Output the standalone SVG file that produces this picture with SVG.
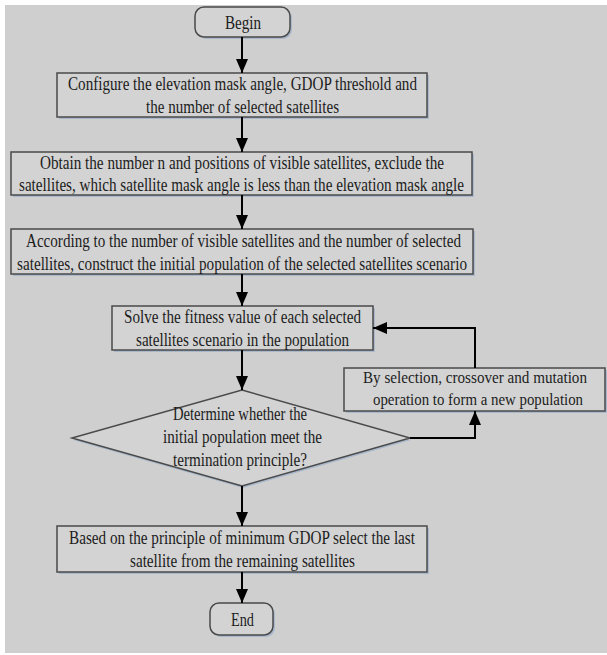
<svg xmlns="http://www.w3.org/2000/svg" width="607" height="655" viewBox="0 0 607 655">
<style>
.box{fill:#d3d3d3;stroke:#4a4a4a;stroke-width:1.5}
.sh{fill:#a9b8cb}
.t{font-family:"Liberation Serif","Times New Roman",serif;font-size:19px;fill:#1c1c1c}
.s{font-size:16px}
.c{stroke:#000;stroke-width:2;fill:none}
</style>
<defs>
<marker id="ah" markerUnits="userSpaceOnUse" markerWidth="14" markerHeight="12" refX="14" refY="6" orient="auto">
<path d="M0,0 L14,6 L0,12 z" fill="#000"/>
</marker>
</defs>
<rect x="0" y="0" width="607" height="655" fill="#ffffff"/>
<rect x="5" y="5" width="602" height="648" fill="#cfcfcf"/>

<g id="begin">
<rect class="sh" x="197" y="9" width="95" height="30" rx="9"/>
<rect class="box" x="195" y="7" width="95" height="30" rx="9"/>
<text class="t" x="225" y="29" textLength="36" lengthAdjust="spacingAndGlyphs">Begin</text>
</g>

<g id="configure">
<rect class="sh" x="59" y="75" width="370" height="44"/>
<rect class="box" x="57" y="73" width="370" height="44"/>
<text class="t" x="68" y="90" textLength="349" lengthAdjust="spacingAndGlyphs">Configure the elevation mask angle, GDOP threshold and</text>
<text class="t" x="146" y="113" textLength="193" lengthAdjust="spacingAndGlyphs">the number of selected satellites</text>
</g>

<g id="obtain">
<rect class="sh" x="13" y="154" width="461" height="43"/>
<rect class="box" x="11" y="152" width="461" height="43"/>
<text class="t" x="40" y="169" textLength="404" lengthAdjust="spacingAndGlyphs">Obtain the number n and positions of visible satellites, exclude the</text>
<text class="t" x="19" y="191" textLength="445" lengthAdjust="spacingAndGlyphs">satellites, which satellite mask angle is less than the elevation mask angle</text>
</g>

<g id="construct">
<rect class="sh" x="13" y="231" width="462" height="45"/>
<rect class="box" x="11" y="229" width="462" height="45"/>
<text class="t" x="26" y="247" textLength="435" lengthAdjust="spacingAndGlyphs">According to the number of visible satellites and the number of selected</text>
<text class="t" x="17" y="270" textLength="450" lengthAdjust="spacingAndGlyphs">satellites, construct the initial population of the selected satellites scenario</text>
</g>

<g id="fitness">
<rect class="sh" x="114" y="308" width="261" height="44"/>
<rect class="box" x="112" y="306" width="261" height="44"/>
<text class="t" x="124" y="323" textLength="237" lengthAdjust="spacingAndGlyphs">Solve the fitness value of each selected</text>
<text class="t" x="136" y="346" textLength="213" lengthAdjust="spacingAndGlyphs">satellites scenario in the population</text>
</g>

<g id="evolve">
<rect class="sh" x="346" y="370" width="261" height="43"/>
<rect class="box" x="344" y="368" width="261" height="43"/>
<text class="t s" x="363" y="383" textLength="224" lengthAdjust="spacingAndGlyphs">By selection, crossover and mutation</text>
<text class="t s" x="373" y="405" textLength="210" lengthAdjust="spacingAndGlyphs">operation to form a new population</text>
</g>

<g id="decision">
<polygon class="sh" points="243,392 411,440 243,488 73,440"/>
<polygon class="box" points="242,390 410,438 242,486 72,438"/>
<text class="t" x="173" y="420" textLength="134" lengthAdjust="spacingAndGlyphs">Determine whether the</text>
<text class="t" x="163" y="443" textLength="159" lengthAdjust="spacingAndGlyphs">initial population meet the</text>
<text class="t" x="173" y="466" textLength="134" lengthAdjust="spacingAndGlyphs">termination principle?</text>
</g>

<g id="select">
<rect class="sh" x="59" y="528" width="370" height="46"/>
<rect class="box" x="57" y="526" width="370" height="46"/>
<text class="t" x="69" y="544" textLength="346" lengthAdjust="spacingAndGlyphs">Based on the principle of minimum GDOP select the last</text>
<text class="t" x="130" y="567" textLength="225" lengthAdjust="spacingAndGlyphs">satellite from the remaining satellites</text>
</g>

<g id="end">
<rect class="sh" x="212" y="605" width="63" height="32" rx="9"/>
<rect class="box" x="210" y="603" width="63" height="32" rx="9"/>
<text class="t" x="231" y="626" textLength="23" lengthAdjust="spacingAndGlyphs">End</text>
</g>

<g id="connectors">
<line class="c" x1="242" y1="37" x2="242" y2="73" marker-end="url(#ah)"/>
<line class="c" x1="242" y1="117" x2="242" y2="152" marker-end="url(#ah)"/>
<line class="c" x1="242" y1="195" x2="242" y2="229" marker-end="url(#ah)"/>
<line class="c" x1="242" y1="274" x2="242" y2="306" marker-end="url(#ah)"/>
<line class="c" x1="242" y1="350" x2="242" y2="390" marker-end="url(#ah)"/>
<line class="c" x1="242" y1="486" x2="242" y2="526" marker-end="url(#ah)"/>
<line class="c" x1="242" y1="572" x2="242" y2="603" marker-end="url(#ah)"/>
<polyline class="c" points="410,438 475,438 475,411" marker-end="url(#ah)"/>
<polyline class="c" points="475,368 475,328 373,328" marker-end="url(#ah)"/>
</g>
</svg>
